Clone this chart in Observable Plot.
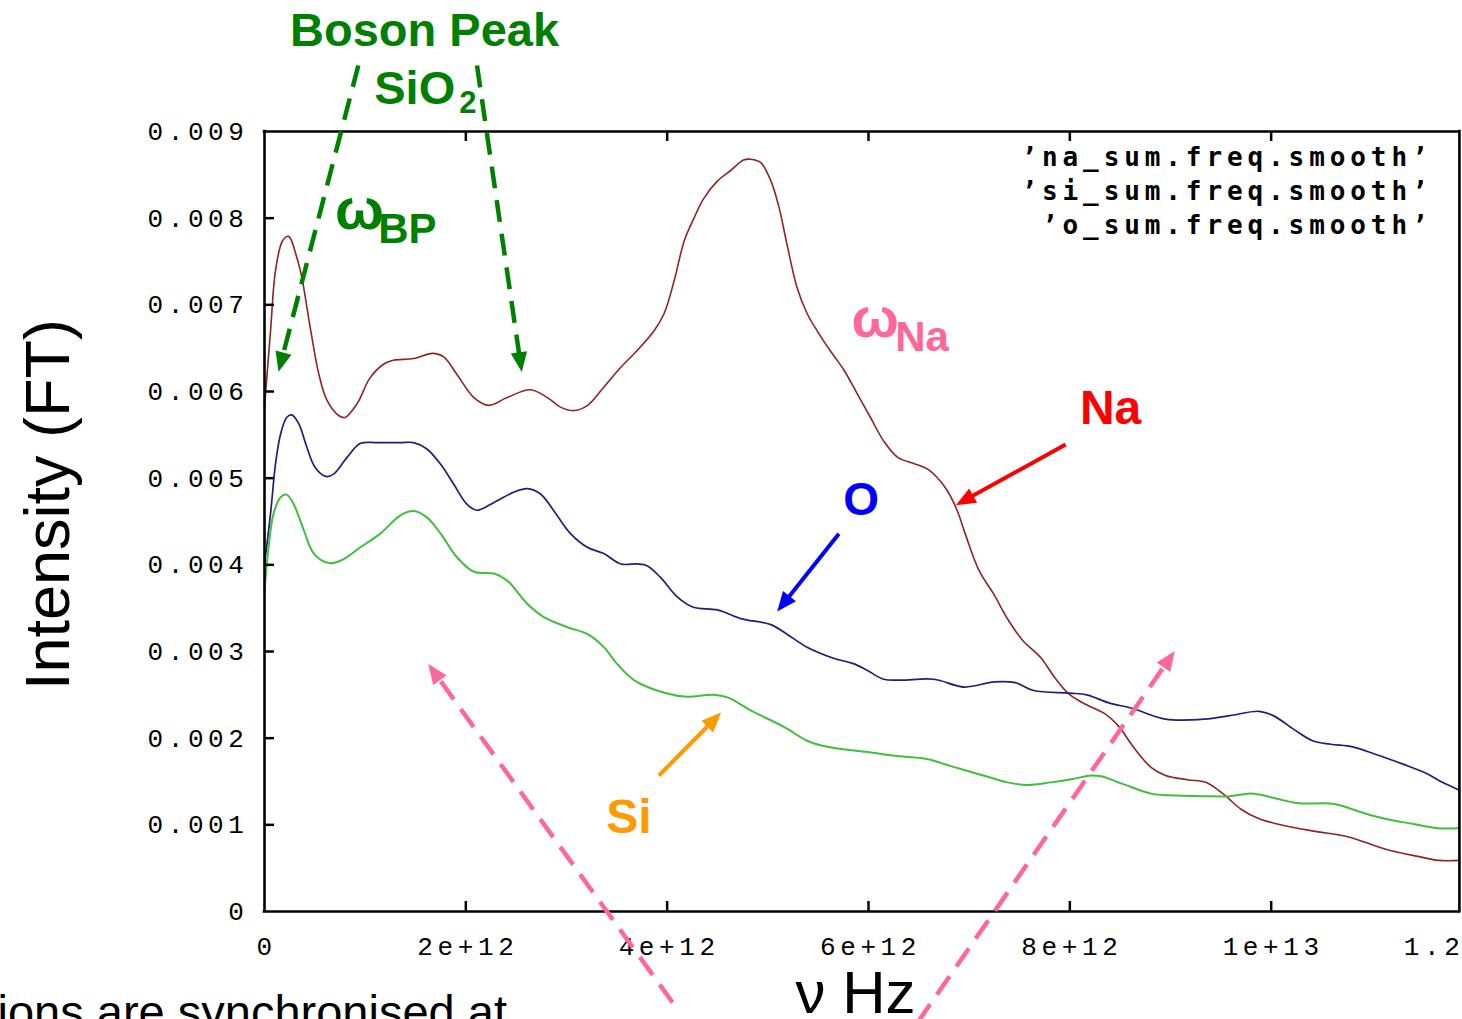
<!DOCTYPE html>
<html>
<head>
<meta charset="utf-8">
<script src="https://cdn.jsdelivr.net/npm/d3@7"></script>
<script src="https://cdn.jsdelivr.net/npm/@observablehq/plot@0.6"></script>
<style>
  html, body { margin: 0; padding: 0; background: white; overflow: hidden; }
  #chart { width: 1480px; height: 1019px; overflow: hidden; position: relative; }
  g[font-family^="Liberation Mono"] { letter-spacing: 4.6px; }
  g[font-family^="DejaVu Sans Mono"] { letter-spacing: 4.9px; }
</style>
</head>
<body>
<div id="chart"></div>
<script>
// ---- Data (frequency in units of 1e12 Hz, intensity in units of 1e-3) ----
const naFreq = [0, 0.06, 0.11, 0.18, 0.24, 0.32, 0.37, 0.46, 0.54, 0.62, 0.74, 0.80, 0.92, 1.05, 1.19, 1.28, 1.48, 1.67, 1.78, 1.91, 2.08, 2.23, 2.41, 2.64, 2.81, 2.94, 3.07, 3.21, 3.37, 3.54, 3.70, 3.87, 3.97, 4.07, 4.17, 4.27, 4.36, 4.50, 4.63, 4.76, 4.83, 4.93, 5.03, 5.11, 5.19, 5.29, 5.39, 5.49, 5.62, 5.76, 5.89, 6.02, 6.15, 6.29, 6.45, 6.58, 6.68, 6.78, 6.88, 6.96, 7.10, 7.24, 7.39, 7.53, 7.71, 7.85, 7.99, 8.14, 8.35, 8.49, 8.63, 8.81, 8.95, 9.17, 9.35, 9.52, 9.70, 9.88, 10.06, 10.41, 10.77, 11.13, 11.48, 11.66, 11.87];
const naInt = [5.82, 6.70, 7.40, 7.74, 7.79, 7.55, 7.32, 6.70, 6.20, 5.90, 5.72, 5.70, 5.86, 6.16, 6.32, 6.36, 6.38, 6.44, 6.40, 6.20, 5.93, 5.84, 5.93, 6.02, 5.93, 5.82, 5.78, 5.84, 6.05, 6.28, 6.47, 6.70, 6.90, 7.28, 7.74, 8.01, 8.22, 8.43, 8.55, 8.67, 8.68, 8.64, 8.43, 8.13, 7.70, 7.20, 6.90, 6.70, 6.47, 6.24, 5.97, 5.70, 5.43, 5.24, 5.17, 5.11, 5.01, 4.86, 4.63, 4.36, 3.93, 3.67, 3.36, 3.13, 2.93, 2.70, 2.51, 2.40, 2.28, 2.13, 1.90, 1.66, 1.57, 1.52, 1.49, 1.36, 1.18, 1.07, 1.01, 0.93, 0.86, 0.72, 0.63, 0.59, 0.59];

const oFreq = [0, 0.06, 0.11, 0.16, 0.22, 0.27, 0.34, 0.42, 0.50, 0.61, 0.69, 0.82, 0.95, 1.12, 1.35, 1.48, 1.61, 1.75, 1.88, 2.01, 2.11, 2.28, 2.48, 2.61, 2.74, 2.87, 3.04, 3.21, 3.37, 3.54, 3.70, 3.80, 3.93, 4.10, 4.26, 4.50, 4.73, 5.03, 5.19, 5.39, 5.66, 5.85, 5.99, 6.15, 6.32, 6.65, 6.95, 7.25, 7.46, 7.64, 8.00, 8.17, 8.38, 8.63, 8.95, 9.34, 9.59, 9.88, 10.02, 10.24, 10.41, 10.59, 10.81, 11.02, 11.31, 11.55, 11.70, 11.87];
const oInt = [4.01, 4.59, 5.17, 5.51, 5.70, 5.73, 5.63, 5.36, 5.13, 5.02, 5.05, 5.24, 5.40, 5.41, 5.41, 5.41, 5.34, 5.16, 4.93, 4.70, 4.63, 4.72, 4.84, 4.88, 4.82, 4.63, 4.36, 4.20, 4.13, 4.01, 4.01, 3.99, 3.86, 3.63, 3.51, 3.48, 3.38, 3.31, 3.20, 3.05, 2.92, 2.86, 2.78, 2.68, 2.67, 2.68, 2.59, 2.65, 2.64, 2.55, 2.52, 2.50, 2.41, 2.34, 2.22, 2.22, 2.26, 2.31, 2.26, 2.09, 1.97, 1.93, 1.90, 1.82, 1.70, 1.59, 1.49, 1.40];

const siFreq = [0, 0.04, 0.09, 0.16, 0.22, 0.29, 0.39, 0.49, 0.64, 0.76, 0.95, 1.15, 1.35, 1.48, 1.61, 1.75, 1.91, 2.08, 2.28, 2.41, 2.61, 2.77, 3.01, 3.21, 3.37, 3.50, 3.67, 3.90, 4.17, 4.46, 4.60, 4.83, 5.16, 5.39, 5.59, 5.99, 6.32, 6.58, 6.81, 7.14, 7.38, 7.58, 7.81, 8.03, 8.21, 8.31, 8.53, 8.81, 8.99, 9.34, 9.59, 9.77, 9.88, 10.06, 10.27, 10.63, 10.88, 11.13, 11.41, 11.66, 11.87];
const siInt = [3.70, 4.20, 4.59, 4.78, 4.81, 4.70, 4.40, 4.13, 4.02, 4.05, 4.20, 4.36, 4.57, 4.62, 4.55, 4.36, 4.09, 3.92, 3.90, 3.82, 3.55, 3.40, 3.28, 3.20, 3.05, 2.86, 2.67, 2.55, 2.48, 2.50, 2.47, 2.32, 2.13, 1.97, 1.90, 1.84, 1.79, 1.76, 1.68, 1.57, 1.49, 1.46, 1.49, 1.53, 1.57, 1.56, 1.47, 1.36, 1.34, 1.33, 1.33, 1.36, 1.35, 1.30, 1.25, 1.24, 1.15, 1.07, 1.01, 0.96, 0.96];

const xTickValues = [0, 2e12, 4e12, 6e12, 8e12, 1e13, 1.2e13];
const xTickLabels = ["0", "2e+12", "4e+12", "6e+12", "8e+12", "1e+13", "1.2e+13"];
const yTickValues = [0, 0.001, 0.002, 0.003, 0.004, 0.005, 0.006, 0.007, 0.008, 0.009];
const yTickLabels = ["0", "0.001", "0.002", "0.003", "0.004", "0.005", "0.006", "0.007", "0.008", "0.009"];
const legendLabels = ["’na_sum.freq.smooth’", "’si_sum.freq.smooth’", "’o_sum.freq.smooth’"];

const xLabel = "ν Hz";
const yLabel = "Intensity (FT)";
const footText = "ions are synchronised at";
const xVisibleEnd = 11.87e12; // the picture is cut at this frequency

// ---- Tables ----
const toRows = (f, v) => f.map((x, i) => ({x: x * 1e12, y: v[i] * 1e-3}));
const naRows = toRows(naFreq, naInt);
const oRows = toRows(oFreq, oInt);
const siRows = toRows(siFreq, siInt);
const xTicks = xTickValues.map((v, i) => ({v, t: xTickLabels[i]}));
const yTicks = yTickValues.map((v, i) => ({v, t: yTickLabels[i]}));

// annotation placements (data coordinates: Hz, intensity)
const notes = [
  {t: "Boson Peak", x: 1.59e12, y: 0.00999, fill: "#008000", size: 47, anchor: "middle"},
  {t: "SiO", x: 1.09e12, y: 0.00932, fill: "#008000", size: 47, anchor: "start"},
  {t: "2", x: 1.935e12, y: 0.00921, fill: "#008000", size: 31, anchor: "start"},
  {t: "ω", x: 0.70e12, y: 0.00788, fill: "#008000", size: 58, anchor: "start"},
  {t: "BP", x: 1.13e12, y: 0.00771, fill: "#008000", size: 42, anchor: "start"},
  {t: "ω", x: 5.83e12, y: 0.00663, fill: "#ff6699", size: 56, anchor: "start"},
  {t: "Na", x: 6.265e12, y: 0.00647, fill: "#ff6699", size: 42, anchor: "start"},
  {t: "Na", x: 8.10e12, y: 0.00562, fill: "#ff0000", size: 48, anchor: "start"},
  {t: "O", x: 5.75e12, y: 0.00458, fill: "#0000ff", size: 46, anchor: "start"},
  {t: "Si", x: 3.395e12, y: 0.00091, fill: "#ff9900", size: 48, anchor: "start"}
];
const dashedArrows = [
  {x1: 0.932e12, y1: 0.009761, x2: 0.153e12, y2: 0.006288, c: "#008000"},
  {x1: 2.111e12, y1: 0.009761, x2: 2.548e12, y2: 0.006288, c: "#008000"},
  {x1: 4.054e12, y1: -0.00105, x2: 1.659e12, y2: 0.002804, c: "#ff6699"},
  {x1: 6.488e12, y1: -0.00128, x2: 9.011e12, y2: 0.002954, c: "#ff6699"}
];
const solidArrows = [
  {x1: 7.958e12, y1: 0.005388, x2: 6.915e12, y2: 0.004719, c: "#ff0000"},
  {x1: 5.706e12, y1: 0.004358, x2: 5.127e12, y2: 0.003511, c: "#0000ff"},
  {x1: 3.918e12, y1: 0.001569, x2: 4.498e12, y2: 0.002250, c: "#ff9900"}
];

function headMarker(color, context) {
  const doc = (context && context.document) || document;
  const ns = "http://www.w3.org/2000/svg";
  const m = doc.createElementNS(ns, "marker");
  m.setAttribute("viewBox", "-10 -10 20 20");
  m.setAttribute("markerWidth", 22);
  m.setAttribute("markerHeight", 22);
  m.setAttribute("markerUnits", "userSpaceOnUse");
  m.setAttribute("orient", "auto");
  m.setAttribute("refX", 4);
  m.setAttribute("refY", 0);
  const p = doc.createElementNS(ns, "path");
  p.setAttribute("d", "M-9,-7.5L9,0L-9,7.5Z");
  p.setAttribute("fill", color);
  p.setAttribute("stroke", "none");
  m.appendChild(p);
  return m;
}

const H = 911 - 131, W = 1472 - 264;
const tickFont = "Liberation Mono, monospace";
const legendFont = "DejaVu Sans Mono, monospace";
const sans = "Liberation Sans, Arial, sans-serif";

const marks = [
  // curves
  Plot.line(naRows, {x: "x", y: "y", stroke: "#8e2424", strokeWidth: 1.6, curve: "catmull-rom"}),
  Plot.line(oRows, {x: "x", y: "y", stroke: "#1f1f7a", strokeWidth: 1.7, curve: "catmull-rom"}),
  Plot.line(siRows, {x: "x", y: "y", stroke: "#3fbf3f", strokeWidth: 2, curve: "catmull-rom"}),
  // border
  Plot.ruleY([0, 0.009], {y: d => d, x1: 0, x2: xVisibleEnd, stroke: "black", strokeWidth: 2.6, strokeLinecap: "square"}),
  Plot.ruleX([0, xVisibleEnd], {x: d => d, y1: 0, y2: 0.009, stroke: "black", strokeWidth: 2.6, strokeLinecap: "square"}),
  // ticks inside (bottom, top, left)
  Plot.tickX(xTickValues.filter(v => v > 0 && v < xVisibleEnd), {x: d => d, insetTop: H - 10, stroke: "black", strokeWidth: 2.5}),
  Plot.tickX(xTickValues.filter(v => v > 0 && v < xVisibleEnd), {x: d => d, insetBottom: H - 10, stroke: "black", strokeWidth: 2.5}),
  Plot.tickY(yTickValues.filter(v => v > 0 && v < 0.009), {y: d => d, insetRight: W - 10, stroke: "black", strokeWidth: 2.5}),
  // tick labels
  Plot.text(xTicks, {x: "v", text: "t", frameAnchor: "bottom", dy: 43, dx: 2, lineAnchor: "bottom", textAnchor: "middle", fontFamily: tickFont, fontSize: 26, fill: "black"}),
  Plot.text(yTicks, {y: "v", text: "t", frameAnchor: "left", dx: -16, dy: 8.5, lineAnchor: "bottom", textAnchor: "end", fontFamily: tickFont, fontSize: 26, fill: "black"}),
  // legend
  ...legendLabels.map((t, i) => Plot.text([t], {text: d => d, frameAnchor: "top-right", dx: -40, dy: 34 + i * 34, lineAnchor: "bottom", textAnchor: "end", fontFamily: legendFont, fontWeight: "bold", fontSize: 26, fill: "black"})),
  // axis labels
  Plot.text([yLabel], {text: d => d, frameAnchor: "left", rotate: -90, dx: -216, dy: -17, textAnchor: "middle", fontFamily: sans, fontSize: 63, fill: "black"}),
  Plot.text([xLabel], {text: d => d, frameAnchor: "bottom", dx: -13, dy: 101, lineAnchor: "bottom", textAnchor: "middle", fontFamily: sans, fontSize: 60, fill: "black"}),
  Plot.text([footText], {text: d => d, frameAnchor: "bottom-left", dx: -267, dy: 116, lineAnchor: "bottom", textAnchor: "start", fontFamily: sans, fontSize: 47, fill: "black"}),
  // arrows
  Plot.link(dashedArrows, {x1: "x1", y1: "y1", x2: "x2", y2: "y2", stroke: "c", strokeWidth: 4.5, strokeDasharray: "22,12", markerEnd: headMarker}),
  Plot.link(solidArrows, {x1: "x1", y1: "y1", x2: "x2", y2: "y2", stroke: "c", strokeWidth: 4, markerEnd: headMarker}),
  // annotations
  ...notes.map(n => Plot.text([n], {x: "x", y: "y", text: "t", fill: "fill", fontSize: n.size, fontWeight: "bold", fontFamily: sans, textAnchor: n.anchor, lineAnchor: "bottom"}))
];

const chart = Plot.plot({
  width: 1480,
  height: 1019,
  marginLeft: 264,
  marginRight: 8,
  marginTop: 131,
  marginBottom: 108,
  x: {domain: [0, 1.2e13], axis: null},
  y: {domain: [0, 0.009], axis: null},
  color: {type: "identity"},
  style: {background: "white", overflow: "visible", maxWidth: "none"},
  marks
});
document.getElementById("chart").appendChild(chart);
</script>
</body>
</html>
